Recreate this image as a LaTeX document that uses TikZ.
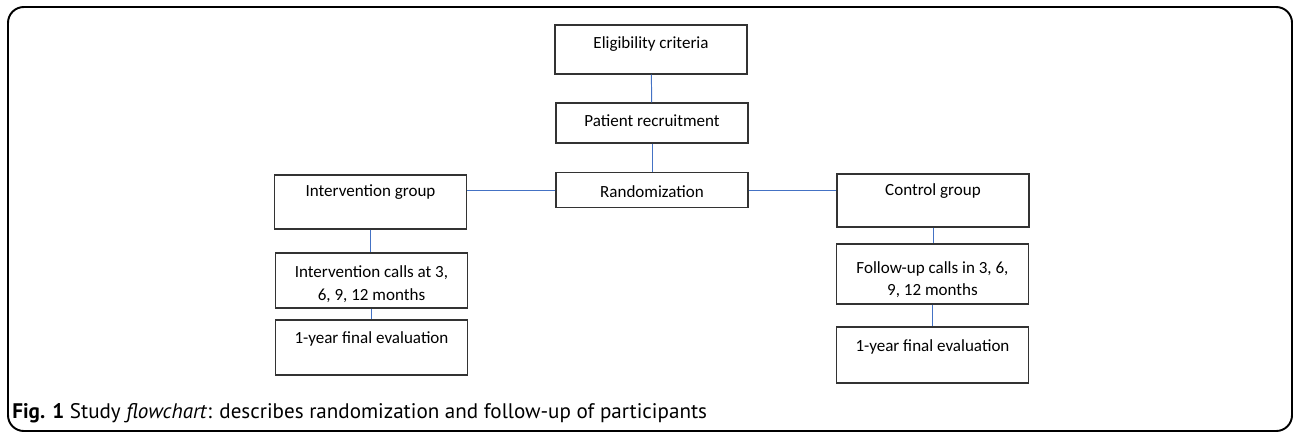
\documentclass[tikz,border=0pt]{standalone}
\usepackage{fontspec}
\setmainfont{Carlito}
\newfontfamily\capfont{PT Sans}
\definecolor{linkblue}{RGB}{68,114,196}
\newcommand{\lift}[1]{\rule{0pt}{#1}}
\tikzset{
  box/.style={draw=black!80, line width=0.8pt, fill=white, minimum width=3.84cm, align=center, font=\fontsize{9.7}{12.8}\selectfont},
  onebox/.style={box, text height=7pt, text depth=2.5pt},
  topbox/.style={onebox, text depth=13pt},
  link/.style={draw=linkblue, line width=0.55pt}
}
\begin{document}
\begin{tikzpicture}[x=0.02cm,y=-0.02cm]
\useasboundingbox (0,0) rectangle (1295,433);
\draw[line width=1.1pt, rounded corners=9pt] (8,7) rectangle (1292,431);

% middle column
\node[onebox, text depth=8.5pt, minimum height=0.98cm] (elig) at (651,49.5) {Eligibility criteria};
\node[onebox, minimum height=0.8cm] (recruit) at (652,123) {Patient recruitment};
\node[onebox, text height=11pt, minimum height=0.6cm] (random) at (652,190) {Randomization};

% intervention arm
\node[topbox, minimum height=1.08cm] (igroup) at (370.5,202) {Intervention group};
\node[box, minimum height=1.1cm] (icalls) at (371.5,280.5) {\lift{10.8pt}Intervention calls at 3,\\ 6, 9, 12 months};
\node[topbox, text depth=12pt, minimum height=1.1cm] (ifinal) at (371.5,347.5) {1-year final evaluation};

% control arm
\node[topbox, minimum height=1.06cm] (cgroup) at (933,200.5) {Control group};
\node[box, minimum height=1.2cm] (cfollow) at (932.5,274) {\lift{13pt}Follow-up calls in 3, 6,\\ 9, 12 months};
\node[topbox, text depth=11pt, minimum height=1.12cm] (cfinal) at (932.5,355) {1-year final evaluation};

\draw[link] (elig) -- (recruit);
\draw[link] (recruit) -- (random);
\draw[link] (random.west) -- (random.west -| igroup.east);
\draw[link] (random.east) -- (random.east -| cgroup.west);
\draw[link] (igroup.south) -- (igroup.south |- icalls.north);
\draw[link] (icalls.south) -- (icalls.south |- ifinal.north);
\draw[link] (cgroup.south) -- (cgroup.south |- cfollow.north);
\draw[link] (cfollow.south) -- (cfollow.south |- cfinal.north);

\node[anchor=base west, inner sep=0pt, font=\capfont\fontsize{12}{14}\selectfont] (caption) at (12,418)
  {\textbf{Fig. 1} Study \textit{flowchart}: describes randomization and follow-up of participants};
\end{tikzpicture}
\end{document}
